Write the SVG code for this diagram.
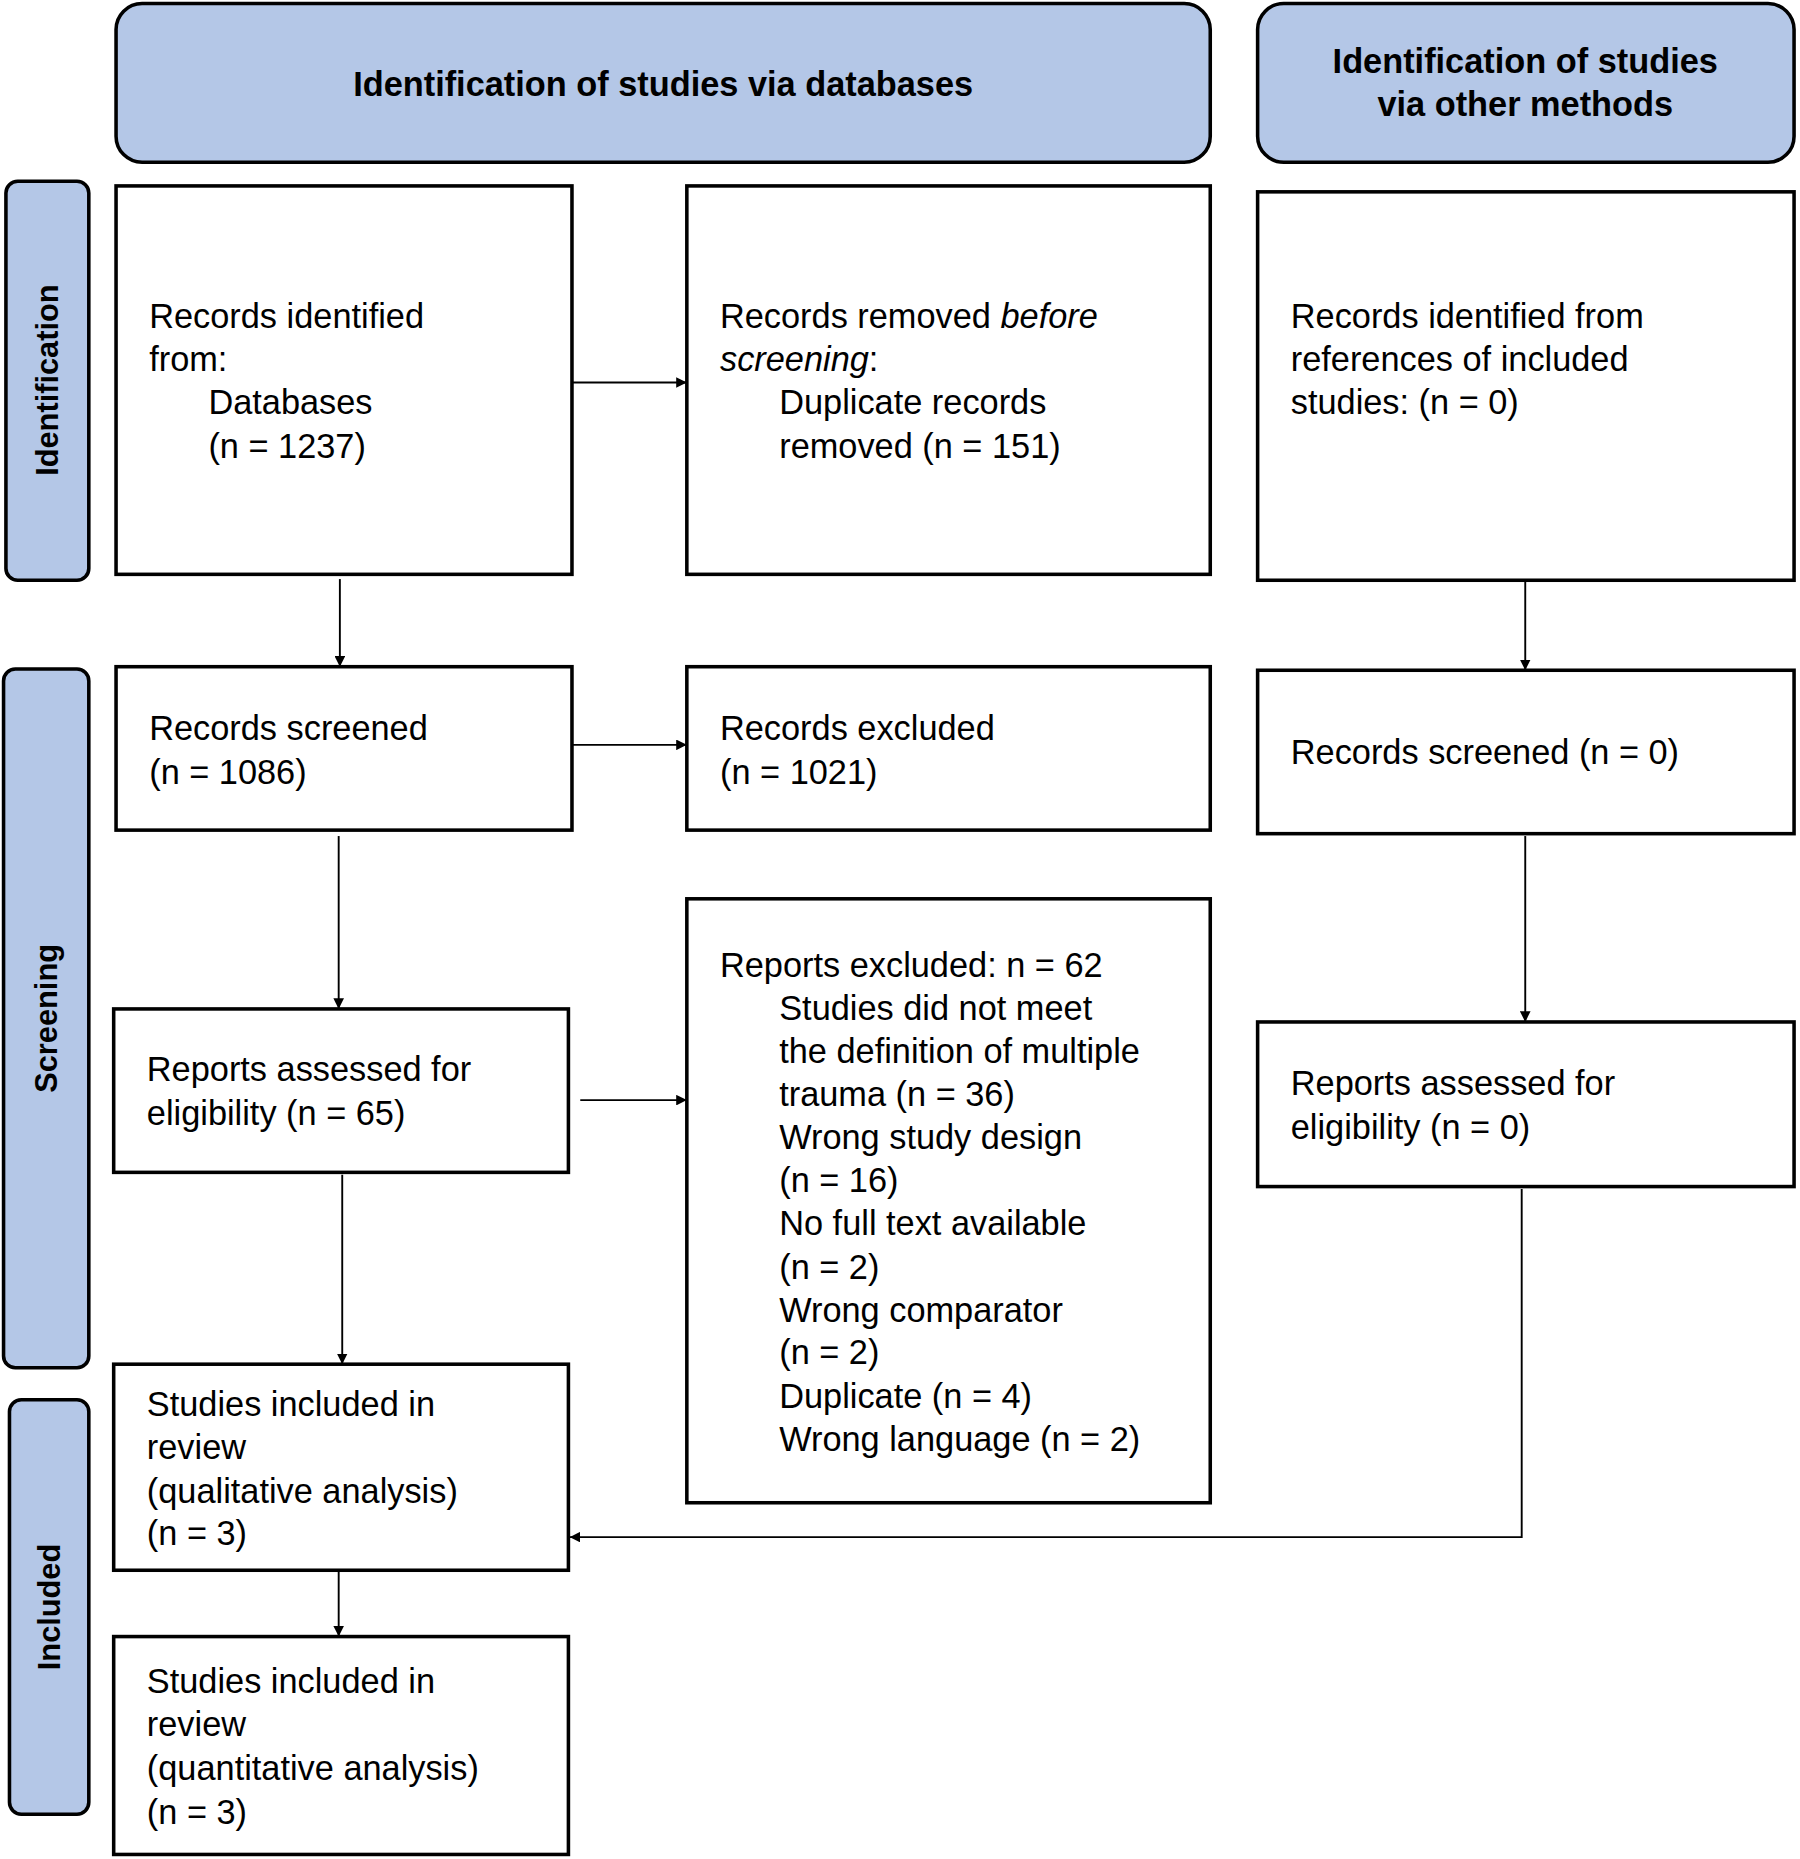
<svg xmlns="http://www.w3.org/2000/svg" width="1800" height="1859" viewBox="0 0 1800 1859">
<style>
.h{fill:#b4c7e7;stroke:#000;stroke-width:3}
.b{fill:#fff;stroke:#000;stroke-width:3}
.t{font-family:"Liberation Sans",Arial,sans-serif;font-size:29px;fill:#000}
.hb{font-family:"Liberation Sans",Arial,sans-serif;font-size:29px;font-weight:bold;fill:#000;text-anchor:middle}
.sb{font-family:"Liberation Sans",Arial,sans-serif;font-size:26px;font-weight:bold;fill:#000;text-anchor:middle}
.c{fill:none;stroke:#000;stroke-width:1.6}
</style>
<defs><marker id="a" viewBox="0 0 10 10" refX="10" refY="5" markerWidth="9" markerHeight="9" orient="auto" markerUnits="userSpaceOnUse"><path d="M0,0L10,5L0,10z" fill="#000"/></marker></defs>
<rect width="1800" height="1859" fill="#fff"/>
<g transform="scale(1.1842)">
<g id="hdr1"><rect class="h" x="98" y="3" width="924" height="134" rx="22"/><text class="hb" x="560" y="81">Identification of studies via databases</text></g>
<g id="hdr2"><rect class="h" x="1062" y="3" width="453" height="134" rx="22"/><text class="hb" x="1288" y="62">Identification of studies</text><text class="hb" x="1288" y="98">via other methods</text></g>
<g id="side1"><rect class="h" x="5" y="153" width="70" height="337" rx="10"/><text class="sb" transform="translate(49,321) rotate(-90)">Identification</text></g>
<g id="side2"><rect class="h" x="3" y="565" width="72" height="590" rx="10"/><text class="sb" transform="translate(48,860) rotate(-90)">Screening</text></g>
<g id="side3"><rect class="h" x="8" y="1182" width="67" height="350" rx="10"/><text class="sb" transform="translate(51,1357) rotate(-90)">Included</text></g>
<g id="A"><rect class="b" x="98" y="157" width="385" height="328"/><text class="t" x="126" y="277">Records identified</text><text class="t" x="126" y="313">from:</text><text class="t" x="176" y="350">Databases</text><text class="t" x="176" y="387">(n = 1237)</text></g>
<g id="B"><rect class="b" x="580" y="157" width="442" height="328"/><text class="t" x="608" y="277">Records removed <tspan font-style="italic">before</tspan></text><text class="t" x="608" y="313"><tspan font-style="italic">screening</tspan>:</text><text class="t" x="658" y="350">Duplicate records</text><text class="t" x="658" y="387">removed (n = 151)</text></g>
<g id="C"><rect class="b" x="1062" y="162" width="453" height="328"/><text class="t" x="1090" y="277">Records identified from</text><text class="t" x="1090" y="313">references of included</text><text class="t" x="1090" y="350">studies: (n = 0)</text></g>
<g id="D"><rect class="b" x="98" y="563" width="385" height="138"/><text class="t" x="126" y="625">Records screened</text><text class="t" x="126" y="662">(n = 1086)</text></g>
<g id="E"><rect class="b" x="580" y="563" width="442" height="138"/><text class="t" x="608" y="625">Records excluded</text><text class="t" x="608" y="662">(n = 1021)</text></g>
<g id="F"><rect class="b" x="1062" y="566" width="453" height="138"/><text class="t" x="1090" y="645">Records screened (n = 0)</text></g>
<g id="G"><rect class="b" x="96" y="852" width="384" height="138"/><text class="t" x="124" y="913">Reports assessed for</text><text class="t" x="124" y="950">eligibility (n = 65)</text></g>
<g id="H"><rect class="b" x="580" y="759" width="442" height="510"/>
<text class="t" x="608" y="825">Reports excluded: n = 62</text>
<text class="t" x="658" y="861">Studies did not meet</text>
<text class="t" x="658" y="898">the definition of multiple</text>
<text class="t" x="658" y="934">trauma (n = 36)</text>
<text class="t" x="658" y="970">Wrong study design</text>
<text class="t" x="658" y="1007">(n = 16)</text>
<text class="t" x="658" y="1043">No full text available</text>
<text class="t" x="658" y="1080">(n = 2)</text>
<text class="t" x="658" y="1116">Wrong comparator</text>
<text class="t" x="658" y="1152">(n = 2)</text>
<text class="t" x="658" y="1189">Duplicate (n = 4)</text>
<text class="t" x="658" y="1225">Wrong language (n = 2)</text></g>
<g id="I"><rect class="b" x="1062" y="863" width="453" height="139"/><text class="t" x="1090" y="925">Reports assessed for</text><text class="t" x="1090" y="962">eligibility (n = 0)</text></g>
<g id="J"><rect class="b" x="96" y="1152" width="384" height="174"/><text class="t" x="124" y="1196">Studies included in</text><text class="t" x="124" y="1232">review</text><text class="t" x="124" y="1269">(qualitative analysis)</text><text class="t" x="124" y="1305">(n = 3)</text></g>
<g id="K"><rect class="b" x="96" y="1382" width="384" height="184"/><text class="t" x="124" y="1430">Studies included in</text><text class="t" x="124" y="1466">review</text><text class="t" x="124" y="1503">(quantitative analysis)</text><text class="t" x="124" y="1540">(n = 3)</text></g>
<g id="connectors">
<path class="c" d="M483,323H580" marker-end="url(#a)"/>
<path class="c" d="M287,489V563" marker-end="url(#a)"/>
<path class="c" d="M483,629H580" marker-end="url(#a)"/>
<path class="c" d="M286,706V852" marker-end="url(#a)"/>
<path class="c" d="M490,929H580" marker-end="url(#a)"/>
<path class="c" d="M289,992V1152" marker-end="url(#a)"/>
<path class="c" d="M1288,490V566" marker-end="url(#a)"/>
<path class="c" d="M1288,706V863" marker-end="url(#a)"/>
<path class="c" d="M1285,1004V1298H481" marker-end="url(#a)"/>
<path class="c" d="M286,1326V1382" marker-end="url(#a)"/>
</g>
</g>
</svg>
